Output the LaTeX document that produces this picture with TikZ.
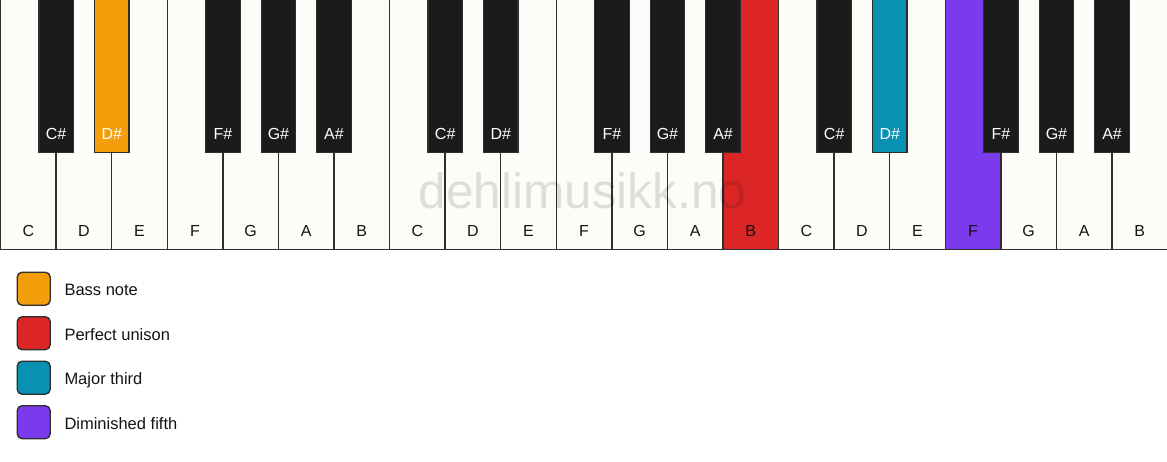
\documentclass[tikz,border=0pt]{standalone}
\usepackage{fontspec}
\setmainfont{Liberation Sans}
\definecolor{keywhite}{HTML}{FDFCF9}
\definecolor{keyblack}{HTML}{1B1B1B}
\definecolor{keyline}{HTML}{2E2E2E}
\definecolor{labdark}{HTML}{141414}
\definecolor{bassc}{HTML}{F59E0B}
\definecolor{unisonc}{HTML}{DC2626}
\definecolor{thirdc}{HTML}{0891B2}
\definecolor{fifthc}{HTML}{7C3AED}
\begin{document}
\begin{tikzpicture}[x=1pt,y=-1pt,
  wkey/.style={draw=keyline, line width=1.4pt, fill=keywhite, minimum width=55.5714pt, minimum height=250.5pt, anchor=north west, inner sep=0pt, outer sep=0pt},
  bkey/.style={draw=keyline, line width=1.2pt, fill=keyblack, minimum width=34.5pt, minimum height=153.7pt, anchor=north, inner sep=0pt, outer sep=0pt},
  keylab/.style={font=\fontsize{16}{16}\selectfont, anchor=base, inner sep=0pt},
  legbox/.style={draw=keyline, line width=1.4pt, rounded corners=5pt, minimum width=33pt, minimum height=33pt, inner sep=0pt},
  legtext/.style={font=\fontsize{16.5}{16.5}\selectfont, text=labdark, anchor=base west, inner sep=0pt},
  watermark/.style={font=\fontsize{49.5}{49.5}\selectfont, text=black, text opacity=0.12, anchor=base west, inner sep=0pt}
]
\useasboundingbox[fill=white] (0,0) rectangle (1167,461);
% white keys
\foreach \i in {0,...,20}{
  \pgfmathtruncatemacro\n{mod(\i,7)}
  \pgfmathparse{{"C","D","E","F","G","A","B"}[\n]}
  \let\lab\pgfmathresult
  \def\kfill{keywhite}
  \ifnum\i=13 \def\kfill{unisonc}\fi
  \ifnum\i=17 \def\kfill{fifthc}\fi
  \node[wkey, fill=\kfill] (w\i) at (\i*55.5714+0.6, -1) {};
  \node[keylab, text=labdark] (lw\i) at ([yshift=13.5pt]w\i.south) {\lab};
}
% black keys
\foreach \o in {0,1,2}{
  \foreach \off/\nm/\k in {1/C\#/0,2/D\#/1,4/F\#/2,5/G\#/3,6/A\#/4}{
    \def\bfill{keyblack}
    \ifnum\o=0 \ifnum\k=1 \def\bfill{bassc}\fi\fi
    \ifnum\o=2 \ifnum\k=1 \def\bfill{thirdc}\fi\fi
    \node[bkey, fill=\bfill] (b\o\k) at ({(7*\o+\off)*55.5714+0.6}, -1) {};
    \node[keylab, text=white] (lb\o\k) at ([yshift=13.7pt]b\o\k.south) {\nm};
  }
}
% watermark
\node[watermark] (wm) at (418.5,208) {dehlimusikk.no};
% legend
\node[legbox, fill=bassc]   (g1) at (33.7,288.7) {};
\node[legbox, fill=unisonc] (g2) at (33.7,333.2) {};
\node[legbox, fill=thirdc]  (g3) at (33.7,377.7) {};
\node[legbox, fill=fifthc]  (g4) at (33.7,422.2) {};
\node[legtext] (t1) at (64.3,295.7) {Bass note};
\node[legtext] (t2) at (64.3,340.2) {Perfect unison};
\node[legtext] (t3) at (64.3,384.7) {Major third};
\node[legtext] (t4) at (64.3,429.2) {Diminished fifth};
\end{tikzpicture}
\end{document}
